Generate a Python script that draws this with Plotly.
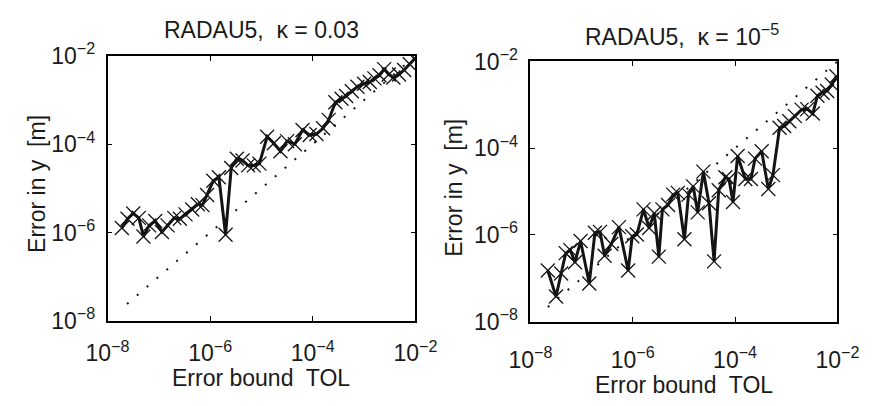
import plotly.graph_objects as go

# ---------------- data (log10 values) ----------------
# Left panel: RADAU5, kappa = 0.03
tol_left_exp = [-7.72, -7.61, -7.50, -7.39, -7.30, -7.19, -7.07, -6.94, -6.83, -6.70,
                -6.59, -6.48, -6.35, -6.24, -6.15, -6.06, -5.94, -5.83, -5.70, -5.59,
                -5.48, -5.37, -5.26, -5.15, -5.04, -4.89, -4.76, -4.63, -4.50, -4.35,
                -4.20, -4.06, -3.93, -3.80, -3.69, -3.56, -3.44, -3.35, -3.24, -3.13,
                -3.00, -2.89, -2.80, -2.70, -2.61, -2.52, -2.43, -2.32, -2.22, -2.11,
                -2.02]
err_left_exp = [-5.90, -5.69, -5.57, -5.67, -6.09, -5.84, -5.74, -5.99, -5.84, -5.67,
                -5.69, -5.59, -5.48, -5.36, -5.38, -5.15, -4.83, -4.75, -6.05, -4.54,
                -4.33, -4.37, -4.48, -4.48, -4.44, -3.83, -3.98, -4.16, -3.93, -4.00,
                -3.68, -3.79, -3.77, -3.64, -3.45, -3.05, -2.97, -2.91, -2.80, -2.70,
                -2.63, -2.59, -2.51, -2.44, -2.30, -2.42, -2.49, -2.42, -2.32, -2.19,
                -2.07]

# Right panel: RADAU5, kappa = 1e-5
tol_right_exp = [-7.66, -7.50, -7.40, -7.31, -7.22, -7.13, -7.02, -6.85, -6.74, -6.64,
                 -6.55, -6.42, -6.27, -6.09, -6.01, -5.92, -5.79, -5.68, -5.58, -5.49,
                 -5.42, -5.31, -5.21, -5.12, -4.99, -4.91, -4.82, -4.73, -4.62, -4.51,
                 -4.41, -4.32, -4.19, -4.12, -4.04, -3.95, -3.80, -3.69, -3.61, -3.48,
                 -3.35, -3.26, -3.13, -3.04, -2.94, -2.83, -2.70, -2.59, -2.48, -2.39,
                 -2.29, -2.20, -2.11, -2.02]
err_right_exp = [-6.82, -7.42, -6.89, -6.42, -6.35, -6.63, -6.14, -7.12, -5.95, -5.93,
                 -6.48, -6.21, -5.82, -6.82, -6.03, -5.99, -5.41, -5.84, -5.50, -6.50,
                 -5.41, -5.31, -5.07, -5.03, -6.10, -5.07, -4.88, -5.48, -4.54, -5.27,
                 -6.61, -4.97, -4.67, -4.71, -5.24, -4.18, -4.71, -4.71, -4.24, -4.07,
                 -4.94, -4.62, -3.53, -3.49, -3.38, -3.26, -3.11, -3.10, -3.20, -2.79,
                 -2.72, -2.68, -2.53, -2.34]

# dotted reference line  error = TOL
bound_left_exp = [-7.62, -2.0]
bound_right_exp = [-7.66, -2.0]

tick_vals = [1e-8, 1e-6, 1e-4, 1e-2]
tick_text = ["10<sup>\u22128</sup>", "10<sup>\u22126</sup>",
             "10<sup>\u22124</sup>", "10<sup>\u22122</sup>"]
titles = ["RADAU5,\u00a0 \u03ba = 0.03", "RADAU5,\u00a0 \u03ba = 10<sup>\u22125</sup>"]
x_title = "Error bound\u00a0 TOL"
y_title = "Error in y\u00a0 [m]"

# ---------------- figure ----------------
W, H = 886, 406
FONT = "Liberation Sans, Arial, Helvetica, sans-serif"
FS = 23
INK = "#141414"


def p10(v):
    return [10 ** e for e in v]


fig = go.Figure()

panels = [
    (tol_left_exp, err_left_exp, bound_left_exp, "x", "y"),
    (tol_right_exp, err_right_exp, bound_right_exp, "x2", "y2"),
]
for tx, ey, bd, xa, ya in panels:
    fig.add_trace(go.Scatter(
        x=p10(bd), y=p10(bd), mode="lines", xaxis=xa, yaxis=ya,
        line=dict(color=INK, width=2, dash="2px,11px"), showlegend=False,
        hoverinfo="skip"))
    fig.add_trace(go.Scatter(
        x=p10(tx), y=p10(ey), mode="lines+markers", xaxis=xa, yaxis=ya,
        line=dict(color=INK, width=3),
        marker=dict(symbol="x-thin-open", size=14, color=INK,
                    line=dict(color=INK, width=1.3)),
        showlegend=False))

axis_common = dict(
    type="log", range=[-8, -2], tickmode="array", tickvals=tick_vals,
    ticktext=tick_text, ticks="inside", ticklen=5, tickwidth=1.2,
    tickcolor="#000", showline=True, linecolor="#000", linewidth=1.6,
    mirror="ticks", showgrid=False, zeroline=False,
    tickfont=dict(family=FONT, size=FS, color="#1a1a1a"),
)

xdom = [[90 / W, 414 / W], [535 / W, 858 / W]]
ydom = [[1 - 328 / H, 1 - 42 / H], [1 - 329 / H, 1 - 48 / H]]

fig.update_layout(
    width=W, height=H, margin=dict(l=0, r=0, t=0, b=0),
    paper_bgcolor="white", plot_bgcolor="white",
    font=dict(family=FONT, size=FS, color="#1a1a1a"),
    xaxis=dict(axis_common, domain=xdom[0], anchor="y", ticklabelstandoff=11),
    yaxis=dict(axis_common, domain=ydom[0], anchor="x", ticklabelstandoff=6),
    xaxis2=dict(axis_common, domain=xdom[1], anchor="y2", ticklabelstandoff=17),
    yaxis2=dict(axis_common, domain=ydom[1], anchor="x2", ticklabelstandoff=6),
)

ann = []
# titles
ann.append(dict(text=titles[0], x=252 / W, y=1 - 14 / H))
ann.append(dict(text=titles[1], x=695 / W, y=1 - 19 / H))
# x titles
ann.append(dict(text=x_title, x=252 / W, y=1 - 390 / H))
ann.append(dict(text=x_title, x=697 / W, y=1 - 397 / H))
# y titles
ann.append(dict(text=y_title, x=15 / W, y=1 - 180 / H, textangle=-90))
ann.append(dict(text=y_title, x=455 / W, y=1 - 184 / H, textangle=-90))
for a in ann:
    a.update(xref="paper", yref="paper", showarrow=False, xanchor="center",
             yanchor="middle", font=dict(family=FONT, size=FS, color="#1a1a1a"))
fig.update_layout(annotations=ann)

fig.write_html("out.html")
